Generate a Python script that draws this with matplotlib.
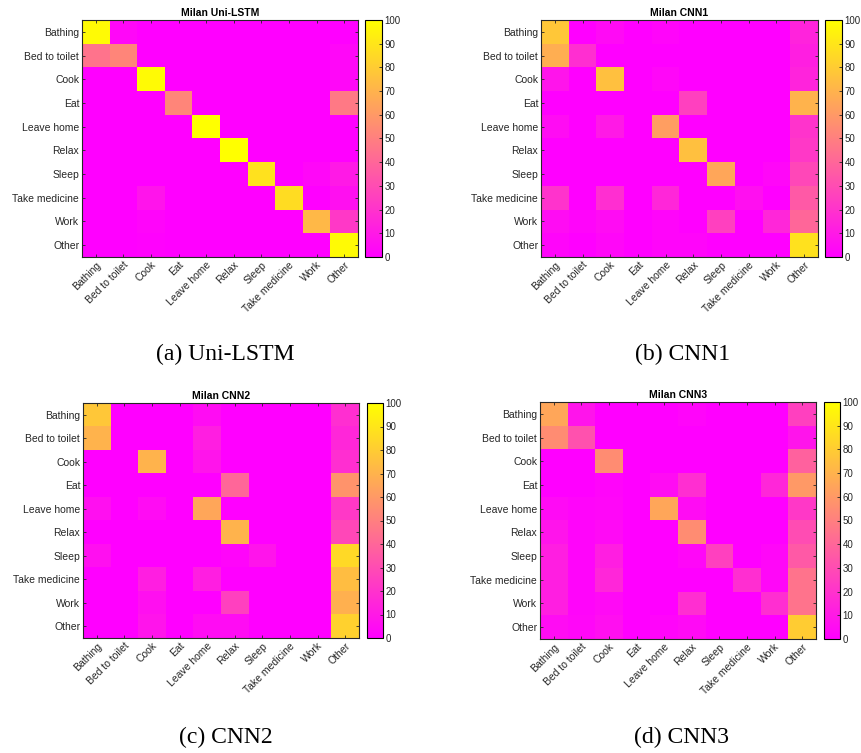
import matplotlib.pyplot as plt
import numpy as np

plt.rcParams['font.family'] = ['Liberation Sans', 'DejaVu Sans']

labels = ["Bathing", "Bed to toilet", "Cook", "Eat", "Leave home", "Relax",
          "Sleep", "Take medicine", "Work", "Other"]

# rows = true class, cols = predicted class (percent)
uni_lstm = [
    [98, 3, 0, 0, 0, 0, 0, 0, 0, 0],
    [45, 52, 0, 0, 0, 0, 0, 0, 0, 3],
    [0, 0, 98, 0, 0, 0, 0, 0, 0, 3],
    [0, 0, 0, 52, 0, 0, 0, 0, 0, 48],
    [0, 0, 0, 0, 100, 0, 0, 0, 0, 0],
    [0, 0, 0, 0, 0, 100, 0, 0, 0, 0],
    [0, 0, 0, 0, 0, 0, 88, 0, 3, 10],
    [0, 0, 8, 0, 0, 0, 0, 86, 0, 6],
    [0, 0, 2, 0, 0, 0, 0, 0, 72, 22],
    [0, 0, 1, 0, 0, 0, 0, 0, 0, 98],
]
cnn1 = [
    [78, 0, 4, 0, 2, 0, 0, 0, 0, 14],
    [68, 18, 0, 0, 0, 0, 0, 0, 0, 12],
    [8, 0, 75, 0, 3, 0, 0, 0, 0, 14],
    [0, 0, 0, 0, 0, 25, 0, 0, 0, 70],
    [5, 0, 10, 0, 62, 0, 0, 0, 0, 20],
    [0, 0, 0, 0, 0, 75, 0, 0, 0, 22],
    [0, 0, 0, 0, 0, 0, 65, 0, 3, 28],
    [20, 0, 18, 0, 15, 0, 0, 6, 0, 35],
    [5, 2, 5, 0, 2, 0, 25, 0, 15, 40],
    [2, 0, 3, 0, 2, 2, 0, 0, 0, 88],
]
cnn2 = [
    [78, 0, 0, 0, 5, 0, 0, 0, 0, 18],
    [70, 0, 0, 0, 12, 0, 0, 0, 0, 15],
    [0, 0, 70, 0, 8, 0, 0, 0, 0, 18],
    [0, 0, 0, 0, 0, 40, 0, 0, 0, 58],
    [6, 0, 5, 0, 65, 0, 0, 0, 0, 22],
    [0, 0, 0, 0, 0, 70, 0, 0, 0, 28],
    [6, 0, 0, 0, 0, 2, 8, 0, 0, 85],
    [0, 0, 12, 0, 12, 0, 0, 0, 0, 74],
    [0, 0, 6, 0, 0, 25, 0, 0, 0, 69],
    [0, 0, 8, 0, 5, 5, 0, 0, 0, 82],
]
cnn3 = [
    [65, 8, 0, 0, 0, 2, 0, 0, 0, 25],
    [55, 32, 0, 0, 0, 0, 0, 0, 0, 8],
    [0, 0, 55, 0, 0, 0, 0, 0, 0, 38],
    [0, 0, 2, 0, 5, 18, 0, 0, 15, 60],
    [4, 2, 3, 0, 65, 5, 0, 0, 0, 22],
    [8, 2, 4, 0, 0, 55, 0, 0, 0, 30],
    [12, 2, 12, 0, 0, 3, 25, 0, 3, 35],
    [12, 2, 15, 0, 0, 0, 0, 18, 3, 45],
    [12, 2, 4, 0, 0, 18, 0, 0, 18, 45],
    [5, 3, 6, 0, 2, 4, 0, 0, 0, 80],
]

panels = [
    ("Milan Uni-LSTM", "(a) Uni-LSTM", uni_lstm),
    ("Milan CNN1", "(b) CNN1", cnn1),
    ("Milan CNN2", "(c) CNN2", cnn2),
    ("Milan CNN3", "(d) CNN3", cnn3),
]

W, H = 862, 753
fig = plt.figure(figsize=(W / 100, H / 100), dpi=100)

# pixel boxes: (ax left, ax right, top, bottom, cbar left, cbar right)
boxes = [
    (82, 358, 20, 257, 365, 382),
    (541, 818, 20, 257, 825, 842),
    (83, 359, 403, 638, 367, 383),
    (540, 816, 402, 639, 824, 840),
]
captions_xy = [(225, 354), (683, 354), (226, 737), (682, 737)]


def px(l, r, t, b):
    return [l / W, 1 - b / H, (r - l) / W, (b - t) / H]


for (title, cap, data), box, cxy in zip(panels, boxes, captions_xy):
    l, r, t, b, cl, cr = box
    ax = fig.add_axes(px(l, r, t, b))
    im = ax.imshow(np.array(data), cmap="spring", vmin=0, vmax=100,
                   aspect="auto", interpolation="nearest")
    ax.set_xticks(range(len(labels)))
    ax.set_yticks(range(len(labels)))
    ax.set_xticklabels(labels, rotation=45, ha="right", rotation_mode="anchor",
                       fontsize=7.5, color="#262626")
    ax.set_yticklabels(labels, fontsize=7.5, color="#262626")
    ax.tick_params(direction="in", length=2.5, width=0.6, top=True, right=True,
                   color="#262626", pad=2)
    for s in ax.spines.values():
        s.set_linewidth(0.8)
        s.set_color("#262626")
    ax.set_title(title, fontsize=7.5, fontweight="bold", pad=3)

    cax = fig.add_axes(px(cl, cr, t, b))
    cb = fig.colorbar(im, cax=cax, ticks=np.arange(0, 101, 10))
    cb.ax.tick_params(labelsize=7, direction="in", length=2.5, width=0.6,
                      colors="#262626", pad=2)
    cb.outline.set_linewidth(0.8)

    fig.text(cxy[0] / W, 1 - cxy[1] / H, cap, ha="center", va="center",
             fontsize=17, family="Liberation Serif")

fig.savefig("out.png", dpi=100)
